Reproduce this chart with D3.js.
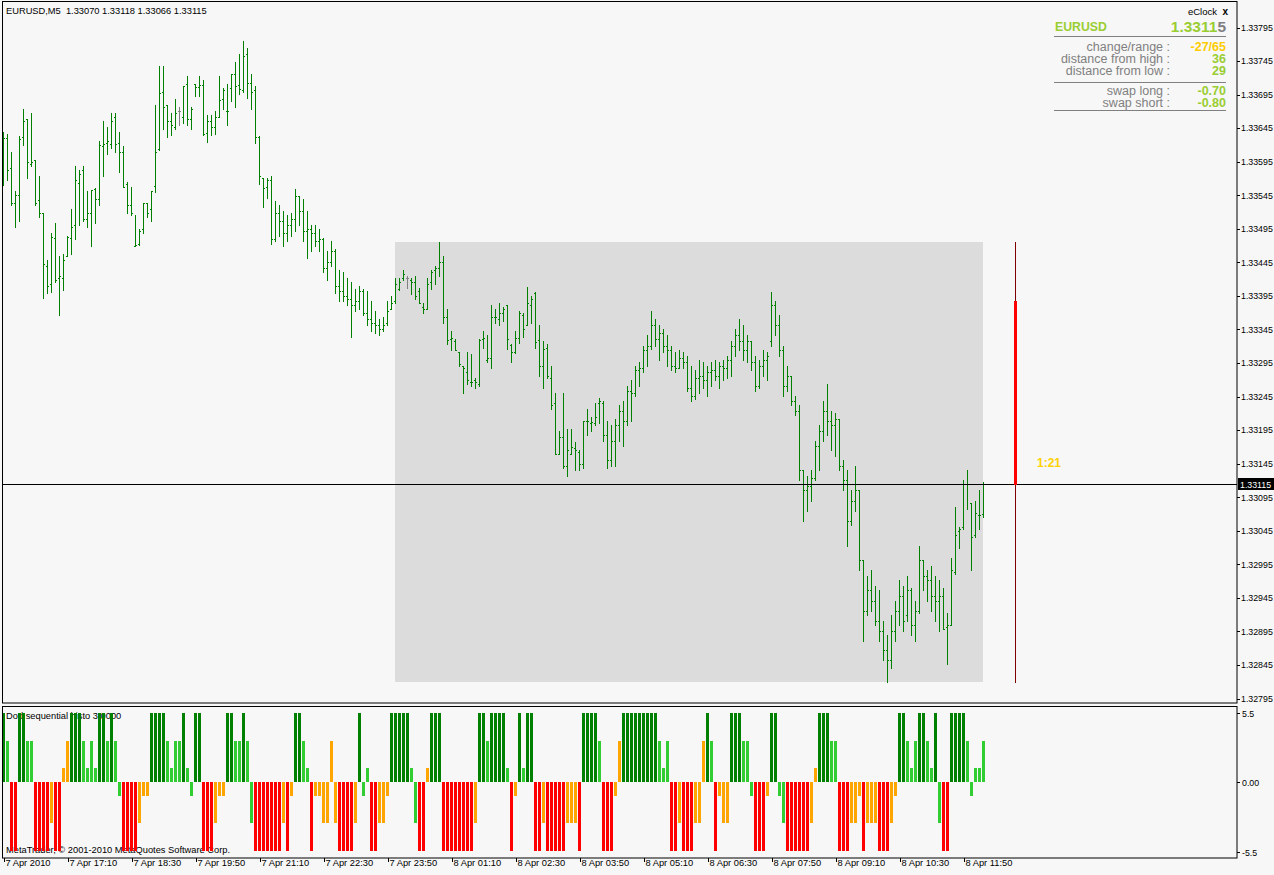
<!DOCTYPE html>
<html>
<head>
<meta charset="utf-8">
<script src="https://d3js.org/d3.v7.min.js"></script>
<style>
html,body{margin:0;padding:0;background:#f7f7f7;}
svg{display:block;}
text{font-family:"Liberation Sans",Arial,sans-serif;}
</style>
</head>
<body>
<svg id="chart" width="1274" height="875"></svg>
<script>
// ---------------- DATA ----------------
const symbol = "EURUSD";
const timeframe = "M5";
const openP = [
1.33626,1.33631,1.33586,1.33533,1.33546,1.33632,1.33658,1.33592,1.33597,1.33538,
1.33518,1.33440,1.33412,1.33482,1.33421,1.33422,1.33455,1.33482,1.33500,1.33564,
1.33582,1.33509,1.33518,1.33555,1.33540,1.33619,1.33623,1.33622,1.33661,1.33623,
1.33610,1.33562,1.33530,1.33470,1.33473,1.33494,1.33534,1.33524,1.33559,1.33614,
1.33699,1.33679,1.33656,1.33647,1.33670,1.33662,1.33711,1.33658,1.33711,1.33707,
1.33710,1.33638,1.33656,1.33646,1.33662,1.33689,1.33671,1.33705,1.33725,1.33710,
1.33702,1.33755,1.33713,1.33702,1.33632,1.33570,1.33558,1.33567,1.33480,1.33519,
1.33507,1.33489,1.33500,1.33510,1.33544,1.33522,1.33492,1.33495,1.33489,1.33477,
1.33480,1.33436,1.33445,1.33462,1.33410,1.33403,1.33395,1.33391,1.33381,1.33388,
1.33403,1.33370,1.33361,1.33355,1.33351,1.33345,1.33354,1.33376,1.33387,1.33406,
1.33422,1.33422,1.33419,1.33415,1.33403,1.33379,1.33375,1.33415,1.33433,1.33437,
1.33445,1.33364,1.33331,1.33328,1.33312,1.33291,1.33282,1.33267,1.33269,1.33264,
1.33331,1.33300,1.33302,1.33364,1.33360,1.33369,1.33382,1.33322,1.33312,1.33333,
1.33367,1.33352,1.33381,1.33400,1.33330,1.33291,1.33318,1.33273,1.33235,1.33159,
1.33185,1.33142,1.33160,1.33169,1.33163,1.33145,1.33208,1.33206,1.33206,1.33235,
1.33236,1.33187,1.33150,1.33179,1.33202,1.33224,1.33209,1.33254,1.33251,1.33284,
1.33287,1.33314,1.33321,1.33351,1.33331,1.33340,1.33321,1.33314,1.33291,1.33287,
1.33302,1.33296,1.33257,1.33246,1.33272,1.33276,1.33269,1.33281,1.33284,1.33276,
1.33291,1.33287,1.33299,1.33321,1.33336,1.33328,1.33314,1.33328,1.33296,1.33261,
1.33291,1.33299,1.33328,1.33381,1.33351,1.33314,1.33261,1.33276,1.33239,1.33224,
1.33135,1.33105,1.33112,1.33123,1.33172,1.33194,1.33224,1.33209,1.33202,1.33212,
1.33142,1.33120,1.33060,1.33090,1.33105,1.33001,1.32926,1.32956,1.32941,1.32911,
1.32896,1.32867,1.32852,1.32896,1.32926,1.32948,1.32919,1.32956,1.32904,1.32926,
1.33001,1.32978,1.32971,1.32948,1.32941,1.32948,1.32901,1.32904,1.32984,1.33044,
1.33050,1.33115,1.33086,1.33038,1.33069,1.33070];
const highP = [
1.33640,1.33637,1.33610,1.33552,1.33634,1.33674,1.33659,1.33667,1.33598,1.33573,
1.33518,1.33448,1.33488,1.33503,1.33455,1.33457,1.33485,1.33525,1.33589,1.33582,
1.33589,1.33552,1.33553,1.33556,1.33626,1.33656,1.33647,1.33668,1.33667,1.33640,
1.33619,1.33565,1.33558,1.33515,1.33495,1.33534,1.33534,1.33552,1.33679,1.33737,
1.33737,1.33679,1.33667,1.33689,1.33677,1.33708,1.33723,1.33677,1.33711,1.33722,
1.33717,1.33665,1.33665,1.33671,1.33722,1.33705,1.33711,1.33726,1.33744,1.33755,
1.33775,1.33765,1.33726,1.33708,1.33634,1.33570,1.33570,1.33574,1.33537,1.33530,
1.33522,1.33515,1.33519,1.33555,1.33544,1.33540,1.33522,1.33500,1.33500,1.33495,
1.33482,1.33462,1.33477,1.33465,1.33433,1.33430,1.33421,1.33415,1.33406,1.33410,
1.33406,1.33403,1.33388,1.33373,1.33361,1.33364,1.33388,1.33395,1.33421,1.33422,
1.33434,1.33424,1.33421,1.33424,1.33407,1.33384,1.33421,1.33433,1.33439,1.33476,
1.33455,1.33376,1.33342,1.33331,1.33312,1.33291,1.33312,1.33308,1.33272,1.33331,
1.33342,1.33336,1.33382,1.33376,1.33384,1.33378,1.33382,1.33324,1.33342,1.33372,
1.33369,1.33409,1.33395,1.33401,1.33351,1.33328,1.33324,1.33290,1.33251,1.33194,
1.33251,1.33197,1.33197,1.33178,1.33165,1.33209,1.33226,1.33214,1.33236,1.33243,
1.33239,1.33209,1.33202,1.33212,1.33232,1.33239,1.33261,1.33269,1.33291,1.33296,
1.33321,1.33336,1.33373,1.33361,1.33351,1.33346,1.33336,1.33321,1.33311,1.33314,
1.33311,1.33306,1.33291,1.33284,1.33299,1.33296,1.33291,1.33296,1.33299,1.33296,
1.33299,1.33306,1.33328,1.33346,1.33361,1.33351,1.33336,1.33328,1.33306,1.33299,
1.33314,1.33311,1.33401,1.33388,1.33366,1.33321,1.33291,1.33276,1.33246,1.33232,
1.33135,1.33127,1.33135,1.33179,1.33202,1.33239,1.33264,1.33224,1.33221,1.33212,
1.33150,1.33135,1.33105,1.33142,1.33105,1.33001,1.32978,1.32986,1.32963,1.32956,
1.32911,1.32889,1.32919,1.32941,1.32971,1.32963,1.32978,1.32959,1.32941,1.33023,
1.33001,1.32986,1.32993,1.32978,1.32971,1.32959,1.32922,1.33005,1.33081,1.33051,
1.33121,1.33136,1.33087,1.33089,1.33106,1.33118];
const lowP = [
1.33561,1.33568,1.33531,1.33498,1.33507,1.33620,1.33570,1.33589,1.33531,1.33512,
1.33392,1.33400,1.33401,1.33416,1.33367,1.33404,1.33455,1.33458,1.33480,1.33500,
1.33506,1.33498,1.33470,1.33504,1.33530,1.33574,1.33606,1.33616,1.33609,1.33580,
1.33558,1.33519,1.33516,1.33470,1.33471,1.33488,1.33512,1.33507,1.33550,1.33612,
1.33644,1.33632,1.33635,1.33643,1.33649,1.33653,1.33649,1.33643,1.33693,1.33693,
1.33635,1.33625,1.33635,1.33637,1.33662,1.33673,1.33650,1.33686,1.33677,1.33696,
1.33699,1.33690,1.33673,1.33623,1.33562,1.33528,1.33541,1.33473,1.33477,1.33485,
1.33470,1.33477,1.33485,1.33492,1.33500,1.33477,1.33451,1.33462,1.33470,1.33462,
1.33430,1.33418,1.33440,1.33400,1.33388,1.33388,1.33381,1.33334,1.33373,1.33376,
1.33366,1.33351,1.33343,1.33339,1.33336,1.33343,1.33352,1.33375,1.33385,1.33404,
1.33418,1.33407,1.33398,1.33391,1.33384,1.33369,1.33375,1.33406,1.33413,1.33425,
1.33354,1.33324,1.33315,1.33315,1.33291,1.33251,1.33263,1.33260,1.33258,1.33261,
1.33318,1.33296,1.33287,1.33355,1.33351,1.33358,1.33316,1.33297,1.33310,1.33325,
1.33334,1.33351,1.33355,1.33318,1.33276,1.33257,1.33273,1.33227,1.33159,1.33159,
1.33139,1.33126,1.33159,1.33136,1.33136,1.33139,1.33187,1.33194,1.33203,1.33205,
1.33179,1.33138,1.33141,1.33142,1.33179,1.33172,1.33202,1.33209,1.33246,1.33261,
1.33281,1.33291,1.33316,1.33321,1.33299,1.33311,1.33291,1.33284,1.33281,1.33287,
1.33287,1.33254,1.33239,1.33242,1.33251,1.33257,1.33246,1.33261,1.33269,1.33257,
1.33269,1.33272,1.33276,1.33306,1.33314,1.33299,1.33296,1.33284,1.33254,1.33257,
1.33276,1.33269,1.33321,1.33336,1.33306,1.33246,1.33254,1.33232,1.33217,1.33120,
1.33060,1.33075,1.33090,1.33120,1.33135,1.33179,1.33187,1.33165,1.33157,1.33135,
1.33105,1.33023,1.33053,1.33075,1.32986,1.32881,1.32919,1.32926,1.32904,1.32881,
1.32852,1.32819,1.32840,1.32881,1.32904,1.32896,1.32911,1.32889,1.32881,1.32923,
1.32956,1.32941,1.32926,1.32911,1.32896,1.32898,1.32847,1.32904,1.32980,1.33020,
1.33048,1.33078,1.32987,1.33035,1.33048,1.33066];
const closeP = [
1.33631,1.33583,1.33533,1.33546,1.33629,1.33656,1.33594,1.33594,1.33534,1.33519,
1.33442,1.33410,1.33483,1.33418,1.33425,1.33449,1.33483,1.33498,1.33567,1.33576,
1.33509,1.33519,1.33553,1.33540,1.33620,1.33622,1.33626,1.33656,1.33622,1.33610,
1.33558,1.33531,1.33519,1.33471,1.33492,1.33534,1.33519,1.33552,1.33610,1.33698,
1.33677,1.33656,1.33649,1.33668,1.33670,1.33708,1.33658,1.33674,1.33707,1.33710,
1.33637,1.33655,1.33646,1.33662,1.33687,1.33702,1.33670,1.33725,1.33708,1.33704,
1.33753,1.33713,1.33699,1.33632,1.33574,1.33556,1.33568,1.33480,1.33519,1.33507,
1.33489,1.33500,1.33510,1.33544,1.33522,1.33492,1.33495,1.33489,1.33477,1.33480,
1.33436,1.33445,1.33462,1.33410,1.33403,1.33395,1.33391,1.33381,1.33388,1.33403,
1.33370,1.33361,1.33355,1.33351,1.33345,1.33352,1.33373,1.33384,1.33412,1.33415,
1.33427,1.33422,1.33415,1.33395,1.33384,1.33375,1.33412,1.33431,1.33436,1.33446,
1.33364,1.33330,1.33333,1.33315,1.33293,1.33287,1.33270,1.33266,1.33267,1.33330,
1.33333,1.33302,1.33363,1.33363,1.33369,1.33376,1.33331,1.33312,1.33333,1.33370,
1.33346,1.33384,1.33391,1.33327,1.33290,1.33316,1.33275,1.33233,1.33160,1.33185,
1.33142,1.33165,1.33170,1.33165,1.33144,1.33209,1.33209,1.33207,1.33214,1.33239,
1.33187,1.33150,1.33179,1.33202,1.33224,1.33209,1.33254,1.33251,1.33284,1.33287,
1.33314,1.33321,1.33351,1.33331,1.33340,1.33321,1.33314,1.33291,1.33287,1.33302,
1.33296,1.33257,1.33246,1.33272,1.33276,1.33269,1.33281,1.33284,1.33276,1.33291,
1.33287,1.33299,1.33321,1.33336,1.33328,1.33314,1.33328,1.33296,1.33261,1.33291,
1.33299,1.33306,1.33381,1.33351,1.33314,1.33261,1.33276,1.33239,1.33224,1.33135,
1.33105,1.33112,1.33123,1.33172,1.33194,1.33224,1.33209,1.33202,1.33212,1.33142,
1.33120,1.33060,1.33090,1.33105,1.33001,1.32926,1.32956,1.32941,1.32911,1.32896,
1.32867,1.32852,1.32896,1.32926,1.32948,1.32911,1.32956,1.32904,1.32926,1.33001,
1.32978,1.32971,1.32948,1.32941,1.32948,1.32898,1.32904,1.32987,1.33039,1.33048,
1.33115,1.33114,1.33036,1.33071,1.33068,1.33115];

// DeMark sequential histogram: value and colour class per bar
const histoValue = [
5,3,-5,-5,5,5,3,3,-5,-5, -5,-5,-3,-5,-5,1,3,5,5,5, 3,1,3,1,5,5,3,5,3,-1,
-5,-5,-5,-5,-3,-1,-1,5,5,5, 5,3,1,3,3,5,1,-1,5,5, -5,-5,-5,-3,-1,-1,5,5,3,3,
5,3,-3,-5,-5,-5,-5,-5,-5,-5, -3,-5,-1,5,5,3,1,-5,-1,-1, -3,-3,3,-3,-5,-5,-5,-5,-3,5,
-1,1,-5,-5,-3,-3,-1,5,5,5, 5,5,1,-3,-5,-5,1,5,5,5, -5,-5,-5,-5,-5,-5,-5,-5,-3,5,
5,3,5,5,5,5,1,-5,-1,5, 1,5,5,-5,-5,-3,-5,-5,-5,-5, -5,-3,-3,-3,-5,5,5,5,5,3,
-5,-5,-5,-1,3,5,5,5,5,5, 5,5,5,5,3,1,3,-5,-5,-3, -5,-5,-5,-3,-3,3,5,3,-5,-1,
-3,-3,5,5,5,3,3,-1,-5,-5, -5,-1,5,5,-1,-3,-5,-5,-5,-5, -5,-5,-3,1,5,5,5,3,3,-5,
-5,-5,-3,-3,-1,-5,-3,-3,-3,-5, -5,-5,-3,-1,5,5,3,1,3,5, 5,3,1,5,-3,-5,-5,5,5,5,
5,3,-1,1,1,3];
const histoColor = [
"D","L","R","R","D","D","L","L","R","R", "R","R","O","R","R","O","O","D","D","D", "L","L","L","L","D","D","L","D","L","L",
"R","R","R","R","O","O","O","D","D","D", "D","L","L","L","L","D","L","L","D","D", "R","R","R","O","O","O","D","D","L","L",
"D","L","L","R","R","R","R","R","R","R", "O","R","O","D","D","L","L","R","O","O", "O","O","O","O","R","R","R","R","O","D",
"L","L","R","R","O","O","O","D","D","D", "D","D","L","L","R","R","O","D","D","D", "R","R","R","R","R","R","R","R","O","D",
"D","L","D","D","D","D","L","R","O","D", "L","D","D","R","R","O","R","R","R","R", "R","O","O","O","R","D","D","D","D","L",
"R","R","R","O","O","D","D","D","D","D", "D","D","D","D","L","L","L","R","R","O", "R","R","R","O","O","O","D","L","R","O",
"O","O","D","D","D","L","L","L","R","R", "R","O","D","D","L","L","R","R","R","R", "R","R","O","O","D","D","D","L","L","R",
"R","R","O","O","O","R","O","O","O","R", "R","R","O","O","D","D","L","L","L","D", "D","L","L","D","L","R","R","D","D","D",
"D","L","L","L","L","L"];

const priceTicks = [1.33795,1.33745,1.33695,1.33645,1.33595,1.33545,1.33495,1.33445,1.33395,1.33345,
  1.33295,1.33245,1.33195,1.33145,1.33095,1.33045,1.32995,1.32945,1.32895,1.32845,1.32795];
const timeTickIndex = [0,16,32,48,64,80,96,112,128,144,160,176,192,208,224,240];
const timeTickLabels = ["7 Apr 2010","7 Apr 17:10","7 Apr 18:30","7 Apr 19:50","7 Apr 21:10","7 Apr 22:30",
  "7 Apr 23:50","8 Apr 01:10","8 Apr 02:30","8 Apr 03:50","8 Apr 05:10","8 Apr 06:30","8 Apr 07:50",
  "8 Apr 09:10","8 Apr 10:30","8 Apr 11:50"];
const indTicks = [5.5, 0, -5.5];
const indTickLabels = ["5.5","0.00","-5.5"];
const dayStart = 98;           // first bar of 8 Apr
const clockInfo = {change:"-27/65", fromHigh:"36", fromLow:"29", swapLong:"-0.70", swapShort:"-0.80", timeLeft:"1:21"};

// ---------------- CHART ----------------
const n = closeP.length;
const svg = d3.select("#chart").attr("shape-rendering","crispEdges");
const x = d3.scaleLinear().domain([0, n - 1]).range([3, 3 + 4 * (n - 1)]);
const y = d3.scaleLinear().domain([1.32795, 1.33795]).range([698.5, 27.5]);
const yi = d3.scaleLinear().domain([-5.5, 5.5]).range([858, 706]);
const R = v => Math.round(v);
const FONT = 9.3, AXF = 8.8;

svg.append("rect").attr("width",1274).attr("height",875).attr("fill","#f7f7f7");

const defs = svg.append("defs");
defs.append("clipPath").attr("id","mainClip").append("rect").attr("x",3).attr("y",2).attr("width",1234).attr("height",701);
defs.append("clipPath").attr("id","indClip").append("rect").attr("x",3).attr("y",707).attr("width",1234).attr("height",151);

const main = svg.append("g").attr("clip-path","url(#mainClip)");

const dayHigh = d3.max(highP.slice(dayStart));
const dayLow = d3.min(lowP.slice(dayStart));
const dayOpen = openP[dayStart];
const lastClose = closeP[n - 1];

// day range box
main.append("rect")
  .attr("x", x(dayStart)).attr("y", R(y(dayHigh)))
  .attr("width", x(n - 1) - x(dayStart)).attr("height", R(y(dayLow)) - R(y(dayHigh)))
  .attr("fill","#dcdcdc");

// header
main.append("text").attr("x",6).attr("y",14).attr("font-size",FONT).attr("fill","#000")
  .text(`${symbol},${timeframe}\u00a0\u00a0${openP[n-1].toFixed(5)} ${highP[n-1].toFixed(5)} ${lowP[n-1].toFixed(5)} ${closeP[n-1].toFixed(5)}`);

// OHLC bars
const barColor = i => openP[i] === closeP[i] ? "#808080" : "#007f00";
const barG = main.append("g");
const idx = d3.range(n);
barG.selectAll("rect.hl").data(idx).join("rect").attr("class","hl")
  .attr("x", i => x(i)).attr("y", i => R(y(highP[i])))
  .attr("width",1).attr("height", i => R(y(lowP[i])) - R(y(highP[i])) + 1)
  .attr("fill", barColor);
barG.selectAll("rect.op").data(idx).join("rect").attr("class","op")
  .attr("x", i => x(i) - 1).attr("y", i => R(y(openP[i])))
  .attr("width",1).attr("height",1).attr("fill", barColor);
barG.selectAll("rect.cl").data(idx).join("rect").attr("class","cl")
  .attr("x", i => x(i) + 1).attr("y", i => R(y(closeP[i])))
  .attr("width",1).attr("height",1).attr("fill", barColor);

// current price line
const yLast = R(y(lastClose));
main.append("rect").attr("x",2).attr("y",yLast).attr("width",1235).attr("height",1).attr("fill","#000");

// daily candle on the right
const xc = x(n - 1 + 8);
main.append("rect").attr("x", xc).attr("y", R(y(dayHigh))).attr("width",1)
  .attr("height", R(y(dayLow)) - R(y(dayHigh)) + 1).attr("fill","#800000");
main.append("rect").attr("x", xc - 1).attr("y", R(y(dayOpen))).attr("width",3)
  .attr("height", yLast - R(y(dayOpen)) + 1).attr("fill", dayOpen > lastClose ? "#ff0000" : "#008000");
main.append("text").attr("x", xc + 22).attr("y", yLast - 17).attr("font-size",12).attr("font-weight","bold")
  .attr("fill","#ffd200").text(clockInfo.timeLeft);

// eClock panel
const ec = svg.append("g");
const gray = "#808080", yg = "#9acd32";
ec.append("text").attr("x",1217).attr("y",15).attr("text-anchor","end").attr("font-size",9.5).attr("fill","#000").text("eClock");
ec.append("text").attr("x",1228).attr("y",15).attr("text-anchor","end").attr("font-size",10).attr("font-weight","bold").attr("fill","#000").text("x");
ec.append("text").attr("x",1055).attr("y",31).attr("font-size",12.3).attr("font-weight","bold").attr("fill",yg).text(symbol);
const pxStr = lastClose.toFixed(5);
const big = ec.append("text").attr("x",1226).attr("y",32).attr("text-anchor","end").attr("font-size",15.5).attr("font-weight","bold");
big.append("tspan").attr("fill",yg).text(pxStr.slice(0,-1));
big.append("tspan").attr("fill",gray).text(pxStr.slice(-1));
[36, 82, 110].forEach(yy => ec.append("rect").attr("x",1054).attr("y",yy).attr("width",172).attr("height",1).attr("fill",gray));
const rows = [
  ["change/range :", clockInfo.change, "#ffcc00", 51],
  ["distance from high :", clockInfo.fromHigh, yg, 63],
  ["distance from low :", clockInfo.fromLow, yg, 75],
  ["swap long :", clockInfo.swapLong, yg, 95],
  ["swap short :", clockInfo.swapShort, yg, 107]
];
rows.forEach(r => {
  ec.append("text").attr("x",1170).attr("y",r[3]).attr("text-anchor","end").attr("font-size",12.5).attr("fill",gray).text(r[0]);
  ec.append("text").attr("x",1226).attr("y",r[3]).attr("text-anchor","end").attr("font-size",12.5).attr("font-weight","bold").attr("fill",r[2]).text(r[1]);
});

// frames
svg.append("rect").attr("x",2.5).attr("y",1.5).attr("width",1234.5).attr("height",701.5).attr("fill","none").attr("stroke","#000").attr("shape-rendering","auto");
svg.append("rect").attr("x",2.5).attr("y",706.5).attr("width",1234.5).attr("height",151.5).attr("fill","none").attr("stroke","#000").attr("shape-rendering","auto");

// right price axis
const pAxis = svg.append("g").attr("transform","translate(1237,0)")
  .call(d3.axisRight(y).tickValues(priceTicks).tickFormat(d3.format(".5f")).tickSize(3).tickPadding(1));
pAxis.select(".domain").remove();
pAxis.selectAll("text").attr("font-size",AXF).attr("font-family","Liberation Sans, Arial, sans-serif").attr("fill","#000");
pAxis.selectAll("line").attr("stroke","#000");

// current price tag
svg.append("rect").attr("x",1238).attr("y",yLast - 6).attr("width",36).attr("height",12).attr("fill","#000");
svg.append("text").attr("x",1240).attr("y",yLast + 3.5).attr("font-size",AXF).attr("fill","#fff").text(pxStr);

// indicator panel
const ind = svg.append("g").attr("clip-path","url(#indClip)");
ind.append("text").attr("x",6).attr("y",719).attr("font-size",FONT).attr("fill","#000").text("Dod sequential histo 3.0000");
ind.append("text").attr("x",6).attr("y",853).attr("font-size",FONT).attr("fill","#000").text("MetaTrader, \u00a9 2001-2010 MetaQuotes Software Corp.");
const hColors = {D:"#008000", L:"#32cd32", O:"#ffa500", R:"#ff0000"};
const y0 = R(yi(0));
ind.selectAll("rect.h").data(idx).join("rect").attr("class","h")
  .attr("x", i => x(i) - 1).attr("width",3)
  .attr("y", i => histoValue[i] >= 0 ? R(yi(histoValue[i])) : y0)
  .attr("height", i => Math.abs(R(yi(histoValue[i])) - y0))
  .attr("fill", i => hColors[histoColor[i]]);

// indicator axis (labels drawn inside the panel like the terminal does)
const indLabelY = [713, 782, 852];
const iAx = svg.append("g");
indTicks.forEach((t, k) => {
  iAx.append("rect").attr("x",1237).attr("y",indLabelY[k]).attr("width",3).attr("height",1).attr("fill","#000");
  iAx.append("text").attr("x",1242).attr("y",indLabelY[k] + 3.5).attr("font-size",AXF).attr("fill","#000").text(indTickLabels[k]);
});

// time axis
const tAxis = svg.append("g").attr("transform","translate(0,858)")
  .call(d3.axisBottom(x).tickValues(timeTickIndex).tickFormat((d, k) => timeTickLabels[k]).tickSize(4).tickPadding(2));
tAxis.select(".domain").remove();
tAxis.selectAll("line").attr("stroke","#000").attr("transform","translate(0.5,0)");
tAxis.selectAll("text").attr("text-anchor","start").attr("dx",2).attr("dy","0.2em")
  .attr("font-size",FONT).attr("font-family","Liberation Sans, Arial, sans-serif").attr("fill","#000");
</script>
</body>
</html>
